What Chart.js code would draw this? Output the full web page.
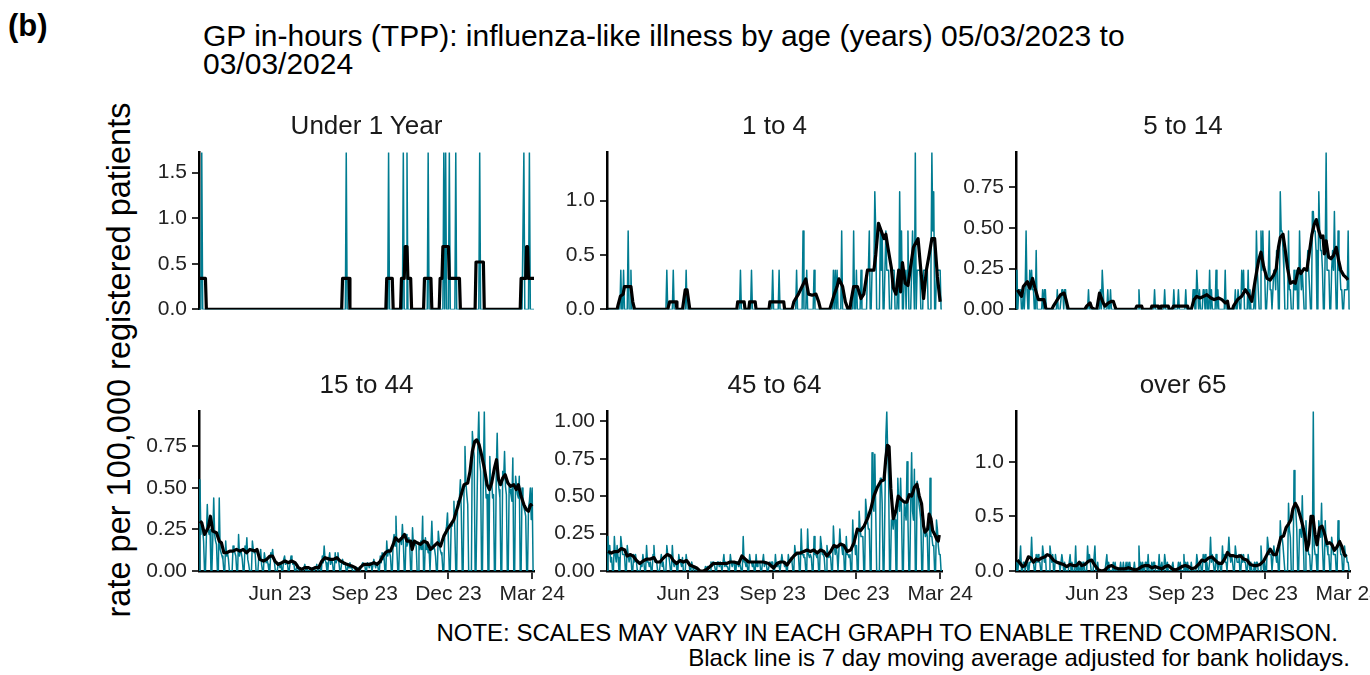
<!DOCTYPE html>
<html>
<head>
<meta charset="utf-8">
<title>GP in-hours ILI by age</title>
<script src="https://cdn.jsdelivr.net/npm/chart.js@4.4.1/dist/chart.umd.min.js"></script>
<style>
  html, body { margin: 0; padding: 0; background: #fff; overflow: hidden; }
  #page { position: relative; width: 1370px; height: 675px; font-family: "Liberation Sans", Arial, sans-serif; }
  #page canvas { position: absolute; }
  .txt { position: absolute; white-space: nowrap; color: #000; }
  .strip { font-size: 26px; line-height: 26px; color: #1a1a1a; transform: translateX(-50%); }
</style>
</head>
<body>
<div id="page">
  <div class="txt" style="left:8px; top:10px; font-size:31px; line-height:31px; font-weight:bold;">(b)</div>
  <div class="txt" style="left:203px; top:22px; font-size:30px; line-height:28.4px;">GP in-hours (TPP): influenza-like illness by age (years) 05/03/2023 to<br>03/03/2024</div>
  <div class="txt" style="left:119px; top:360px; font-size:32.5px; line-height:32.5px; transform: translate(-50%, -50%) rotate(-90deg);">rate per 100,000 registered patients</div>
  <div class="txt" style="right:32px; top:621px; font-size:24px; line-height:24px;">NOTE: SCALES MAY VARY IN EACH GRAPH TO ENABLE TREND COMPARISON.</div>
  <div class="txt" style="right:20px; top:646px; font-size:24px; line-height:24px;">Black line is 7 day moving average adjusted for bank holidays.</div>
</div>
<script>
// =======================
// Data (day 0 = Sun 05/03/2023, day 364 = Sun 03/03/2024)
// =======================

const lastDay = 364;
const dayTicks = [88, 180, 271, 362];
const dayTickLabels = ["Jun 23", "Sep 23", "Dec 23", "Mar 24"];

const panelTitles = ["Under 1 Year", "1 to 4", "5 to 14", "15 to 44", "45 to 64", "over 65"];

// y axis tops and tick values per panel
const yMaxes = [1.72, 1.44, 0.96, 0.96, 1.065, 1.46];
const yTicksUnder1 = [0, 0.5, 1.0, 1.5];
const yTicks1to4 = [0, 0.5, 1.0];
const yTicks5to14 = [0, 0.25, 0.5, 0.75];
const yTicks15to44 = [0, 0.25, 0.5, 0.75];
const yTicks45to64 = [0, 0.25, 0.5, 0.75, 1.0];
const yTicksOver65 = [0, 0.5, 1.0];

// sparse panels: [day, rate] for days with any cases, all other days are 0
const under1Spikes = [
  [3, 1.72], [160, 1.72], [206, 1.72], [222, 1.72], [226, 1.72], [249, 1.72], [266, 1.72],
  [268, 1.72], [272, 1.72], [279, 1.72], [305, 1.72], [353, 1.72], [359, 1.72]
];

const oneTo4Spikes = [
  [15, 0.36], [18, 0.36], [23, 0.72], [26, 0.36], [65, 0.36], [72, 0.36], [86, 0.36],
  [145, 0.36], [157, 0.36], [180, 0.36], [187, 0.36],
  [206, 0.36], [213, 0.72], [217, 0.36], [225, 0.36],
  [246, 0.36], [248, 0.36], [250, 0.36], [255, 0.72],
  [268, 0.72], [271, 0.36], [276, 0.36],
  [283, 0.36], [284, 0.36], [285, 0.72], [288, 0.36], [289, 0.36], [290, 0.36], [291, 1.08], [292, 0.72],
  [297, 0.72], [298, 0.36], [299, 0.72], [303, 0.72], [304, 0.36], [305, 0.36], [306, 0.36],
  [310, 0.36], [311, 0.36], [312, 0.36], [316, 0.36], [318, 1.08], [319, 0.36], [320, 0.72],
  [323, 0.36], [324, 0.36], [326, 0.36], [327, 0.72], [331, 0.36], [332, 0.72], [333, 0.36],
  [335, 1.44], [337, 0.36], [338, 0.36], [339, 0.36], [340, 0.36], [344, 0.36], [345, 0.36],
  [346, 0.36], [347, 0.36], [348, 0.36], [352, 0.36], [353, 1.44], [354, 0.72], [355, 1.08],
  [358, 0.36], [359, 0.36], [360, 0.36], [361, 0.36], [362, 0.36]
];

// dense panels: one row per week, Mon..Fri rates (weekends are 0)
const fiveTo14Weeks = [
  [0.24,0,0.12,0.12,0.12], [0.12,0,0.12,0.48,0.12], [0.24,0.12,0.24,0.12,0.12], [0.36,0,0,0,0],
  [0.12,0,0.12,0.12,0], [0,0,0,0,0], [0,0,0.12,0,0], [0.12,0.12,0,0.12,0.12],
  [0,0,0,0,0], [0,0,0,0,0], [0,0,0,0,0], [0,0.12,0,0,0],
  [0,0,0,0,0], [0.12,0,0.24,0.12,0], [0,0.12,0,0,0.12], [0,0,0,0,0],
  [0,0,0,0,0], [0,0,0,0,0], [0,0,0,0,0], [0.12,0,0,0,0],
  [0,0,0,0,0], [0,0,0,0.12,0], [0,0,0,0,0], [0.12,0,0,0,0],
  [0,0,0,0.12,0], [0,0.12,0,0,0], [0,0,0.12,0,0], [0,0,0,0.12,0.12],
  [0.24,0.12,0,0.12,0], [0.12,0.12,0,0.12,0.12], [0.24,0,0.12,0,0], [0.24,0,0.12,0,0],
  [0,0,0,0.24,0], [0,0,0,0,0], [0.12,0,0,0.12,0.12], [0.24,0.12,0.24,0,0],
  [0.24,0,0.12,0,0], [0.12,0,0.48,0.24,0.12], [0.48,0.24,0.48,0.24,0.24], [0.12,0.24,0.48,0.12,0.12],
  [0.24,0.24,0.12,0.36,0.24], [0.72,0.48,0.48,0.36,0.24], [0,0,0.48,0.12,0.12], [0,0.24,0.12,0.12,0.24],
  [0.48,0.24,0.12,0.24,0.12], [0.24,0.24,0.36,0.24,0.12], [0.60,0.60,0.48,0.48,0.36], [0.72,0.48,0.36,0.36,0.24],
  [0.36,0.96,0.24,0.24,0.24], [0.24,0.36,0.24,0.60,0.24], [0.48,0.24,0.24,0.12,0.12], [0.12,0.12,0.12,0.12,0.48]
];

const fifteenTo44Weeks = [
  [0.55,0.22,0.30,0.25,0.18], [0.20,0.40,0.25,0.22,0.25], [0.20,0.44,0.22,0.18,0.16], [0.44,0.13,0.11,0.09,0.07],
  [0.18,0.09,0.11,0.07,0], [0,0.15,0.13,0.11,0.09], [0.22,0.09,0.13,0.11,0.07], [0.15,0.11,0.20,0.07,0.04],
  [0,0.18,0.13,0.11,0.11], [0,0.09,0.07,0.13,0.04], [0.11,0.07,0.05,0.07,0.04], [0.11,0.09,0.13,0.07,0.05],
  [0,0.04,0.05,0.02,0.05], [0.07,0.09,0.04,0.05,0.05], [0.05,0.09,0.07,0.04,0.05], [0.02,0.04,0,0.02,0.02],
  [0.02,0.02,0.04,0,0.02], [0,0.02,0,0.02,0.02], [0.02,0.04,0,0.02,0.04], [0.09,0.05,0.15,0.07,0.05],
  [0.07,0.11,0.04,0.07,0.05], [0.11,0.05,0.07,0.11,0.05], [0.05,0.07,0.04,0.05,0.04], [0.04,0.02,0.05,0.02,0.02],
  [0,0.02,0,0.02,0], [0,0.04,0.05,0.04,0.04], [0.05,0.04,0.02,0.05,0.04], [0.07,0.04,0.02,0.05,0.04],
  [0.09,0.05,0.11,0.07,0.09], [0.18,0.09,0.13,0.11,0.09], [0.18,0.22,0.15,0.33,0.13], [0.18,0.20,0.16,0.28,0.18],
  [0.22,0.15,0.18,0.20,0.15], [0.26,0.15,0.18,0.16,0.15], [0.16,0.13,0.18,0.13,0.33], [0.20,0.13,0.16,0.11,0.13],
  [0.30,0.13,0.15,0.13,0.09], [0.24,0.18,0.13,0.11,0.09], [0.22,0.24,0.27,0.35,0.18], [0.28,0.27,0.31,0.42,0.24],
  [0.42,0.38,0.44,0.55,0.36], [0.51,0.75,0.53,0.46,0.40], [0,0,0.84,0.75,0.69], [0,0.75,0.96,0.66,0.60],
  [0.60,0.96,0.55,0.44,0.46], [0.69,0.51,0.55,0.44,0.46], [0.60,0.83,0.55,0.49,0.44], [0.60,0.55,0.72,0.51,0.46],
  [0.51,0.49,0.46,0.42,0.68], [0.57,0.51,0.46,0.44,0.57], [0.50,0.42,0.38,0.36,0.33], [0.38,0.42,0.50,0.31,0.50]
];

const fortyFiveTo64Weeks = [
  [0.23,0.11,0.17,0.06,0.09], [0.23,0.11,0.06,0.17,0.09], [0.23,0.17,0.11,0.11,0.11], [0.17,0.11,0.06,0.11,0.09],
  [0.11,0.06,0.11,0.06,0], [0,0.06,0.03,0.11,0.06], [0.17,0.06,0.06,0.03,0.06], [0.11,0.17,0.06,0.06,0.06],
  [0,0.06,0.11,0.03,0.06], [0,0.17,0.11,0.11,0.06], [0.17,0.06,0.03,0.06,0.06], [0.11,0.06,0.06,0.03,0.09],
  [0,0.11,0.06,0.06,0.06], [0.06,0.03,0,0.03,0.03], [0,0,0,0,0], [0,0.03,0,0.03,0],
  [0.06,0.03,0.06,0.06,0.03], [0.06,0.06,0.03,0.06,0.03], [0.11,0.03,0.06,0.03,0.03], [0.11,0.06,0.03,0.06,0.06],
  [0.06,0.06,0.03,0.06,0.03], [0.23,0.06,0.06,0.03,0.06], [0.11,0.06,0.06,0.03,0.06], [0.11,0.03,0.06,0.06,0.06],
  [0.06,0.11,0.03,0.06,0.06], [0,0.06,0.03,0.06,0.06], [0.11,0.03,0.03,0.06,0.03], [0.11,0.06,0.06,0.03,0.06],
  [0.11,0.06,0.06,0.09,0.06], [0.17,0.11,0.11,0.11,0.11], [0.28,0.11,0.11,0.09,0.09], [0.28,0.11,0.09,0.11,0.09],
  [0.23,0.11,0.11,0.09,0.11], [0.23,0.17,0.11,0.11,0.09], [0.17,0.11,0.09,0.11,0.09], [0.30,0.17,0.11,0.17,0.11],
  [0.28,0.17,0.17,0.11,0.17], [0.23,0.11,0.11,0.09,0.11], [0.34,0.17,0.23,0.11,0.17], [0.40,0.28,0.23,0.23,0.23],
  [0.48,0.40,0.34,0.28,0.28], [0.79,0.45,0.40,0.78,0.40], [0,0,0.62,0.62,0.45], [0,0.90,1.065,0.79,0.62],
  [0.34,0.34,0.28,0.40,0.34], [0.62,0.45,0.40,0.62,0.40], [0.45,0.40,0.34,0.73,0.34], [0.45,0.79,0.40,0.34,0.68],
  [0.60,0.55,0.45,0.40,0.34], [0.34,0.28,0.23,0.28,0.23], [0.62,0.23,0.23,0.17,0.17], [0.34,0.28,0.17,0.11,0.11]
];

const over65Weeks = [
  [0.08,0,0.08,0.08,0.23], [0.08,0.08,0,0.08,0.08], [0.08,0.08,0.31,0.08,0.08], [0.15,0.08,0.15,0.08,0.08],
  [0.23,0.15,0.08,0.15,0], [0,0.23,0.15,0.08,0.15], [0.15,0.08,0.08,0.08,0.08], [0.15,0.08,0,0.08,0],
  [0,0.08,0.15,0,0.08], [0,0.23,0,0,0.08], [0.08,0,0.08,0.08,0], [0.23,0.08,0.15,0.08,0],
  [0,0.23,0,0,0.08], [0,0,0,0,0], [0.15,0,0.08,0,0], [0.08,0,0.08,0,0],
  [0,0.08,0,0,0.08], [0.08,0,0.08,0,0.08], [0,0,0.08,0,0], [0.23,0,0.08,0,0.08],
  [0.08,0.08,0,0.15,0], [0.08,0,0.08,0.08,0], [0,0.15,0,0,0.08], [0.15,0.08,0,0.08,0],
  [0,0,0.08,0,0], [0,0.08,0,0.08,0], [0.15,0,0.08,0,0.08], [0,0.08,0,0,0],
  [0.15,0.08,0,0.08,0.08], [0.15,0.08,0.15,0,0.08], [0.08,0.31,0.08,0.15,0.08], [0.15,0.08,0,0.08,0.08],
  [0.23,0.08,0.15,0.08,0.08], [0.31,0.15,0.08,0.15,0.08], [0.23,0.15,0.08,0.08,0.15], [0.15,0.08,0.15,0.08,0.08],
  [0.15,0.08,0,0.08,0], [0.08,0,0.08,0.08,0], [0.23,0.08,0.08,0,0.08], [0.31,0.23,0.15,0.15,0.15],
  [0.23,0.15,0.15,0.08,0.15], [0.46,0.31,0.31,0.23,0.23], [0,0,0.62,0.38,0.31], [0,0.92,0.62,0.54,0.38],
  [0.38,0.38,0.31,0.69,0.31], [0.46,0.23,0.23,0.15,0.15], [0.15,1.46,0.23,0.15,0.15], [0.46,0.38,0.31,0.62,0.23],
  [0.46,0.23,0.23,0.15,0.15], [0.31,0.23,0.15,0.15,0.15], [0.46,0.31,0.23,0.15,0.15], [0.23,0.15,0.15,0.08,0.08]
];

// 7 day moving average (black line), [day, rate]
const maUnder1 = [
  [0,0.34],[7,0.34],[8,0],[155,0],[156,0.34],[163,0.34],[164,0],[203,0],[204,0.34],[210,0.34],[211,0],
  [219,0],[220,0.34],[223,0.34],[224,0.69],[226,0.69],[227,0.34],[230,0.34],[231,0],[244,0],[245,0.34],
  [252,0.34],[253,0],[261,0],[262,0.34],[264,0.34],[265,0.69],[271,0.69],[272,0.34],[283,0.34],[284,0],
  [300,0],[301,0.52],[309,0.52],[310,0],[349,0],[350,0.34],[355,0.34],[356,0.69],[357,0.69],[358,0.34],[364,0.34]
];

const ma1to4 = [
  [0,0],[11,0],[12,0.04],[14.5,0.12],[17.5,0.14],[19,0.21],[26,0.21],[28,0.07],[30,0],[66,0],[68,0.07],
  [75,0.07],[76,0],[82,0],[85,0.18],[87,0.18],[90,0],[141,0],[142,0.07],[149,0.07],[150,0],[154,0],
  [155,0.07],[161,0.07],[162,0],[176,0],[177,0.07],[192,0.07],[193,0],[201,0],[203,0.07],[208,0.14],
  [212,0.21],[216,0.28],[219,0.14],[223,0.13],[227,0.14],[230,0.07],[232,0],[242,0],[247,0.14],[250,0.21],
  [252,0.28],[256,0.21],[259,0.07],[262,0],[264,0],[265,0.07],[268,0.21],[272,0.21],[276,0.10],[279,0.14],
  [283,0.36],[287,0.36],[290,0.36],[292,0.50],[295,0.79],[298,0.72],[301,0.65],[303,0.69],[305,0.58],
  [309,0.38],[311,0.20],[314,0.14],[317,0.36],[319,0.16],[321,0.43],[324,0.24],[327,0.22],[330,0.40],
  [333,0.57],[338,0.65],[341,0.36],[344,0.10],[347,0.36],[350,0.50],[353,0.65],[356,0.65],[359,0.30],[362,0.07]
];

const ma5to14 = [
  [1.5,0.12],[6,0.08],[8,0.14],[12.4,0.17],[15,0.13],[18,0.19],[20.7,0.13],[24.4,0.06],[30.5,0.06],[32.7,0],
  [39,0],[40.7,0.02],[44,0.05],[48.7,0.09],[52.4,0.10],[54.5,0.06],[57,0],[75,0],[77,0.02],[80.7,0.04],
  [82.5,0.01],[86,0],[88,0],[91,0.10],[95,0.04],[97,0.02],[100.7,0.04],[104.4,0.05],[106,0.05],[109,0],
  [130,0],[131.6,0.02],[137,0.02],[138,0],[147,0],[148,0.02],[155,0.02],[156,0],[157,0],[158,0.02],[166,0.02],
  [167,0],[170,0],[171.6,0.02],[187,0.02],[188,0],[191,0],[194,0.06],[197,0.08],[200.7,0.07],[204.4,0.08],
  [208,0.09],[212.4,0.07],[216,0.06],[220.7,0.07],[224.4,0.06],[228,0.04],[230.5,0.05],[232,0],[236,0],
  [237,0.02],[241.5,0.06],[246,0.08],[250,0.12],[253.5,0.09],[257,0.05],[260.7,0.18],[264.4,0.30],[267,0.35],
  [270,0.26],[273.5,0.19],[277,0.18],[280.7,0.21],[283.6,0.25],[286,0.38],[288,0.44],[291,0.46],[293.5,0.36],
  [296,0.25],[299,0.16],[302,0.17],[304.4,0.16],[308,0.25],[310.5,0.22],[314,0.25],[317,0.24],[320,0.36],
  [322.5,0.46],[325,0.52],[327.3,0.55],[330,0.48],[332.4,0.44],[334.5,0.45],[336,0.34],[338,0.42],[340.7,0.32],
  [343.3,0.31],[346,0.33],[349,0.38],[351.6,0.30],[354,0.24],[357,0.21],[360.7,0.19],[361.5,0.18]
];

const ma15to44 = [
  [1,0.30],[3,0.29],[6,0.22],[10,0.26],[12.4,0.33],[15,0.24],[19,0.23],[22,0.18],[24.4,0.17],[27,0.11],
  [30,0.11],[33.5,0.12],[37,0.12],[40.7,0.13],[44.4,0.12],[48,0.13],[51.6,0.11],[55.3,0.13],[60.7,0.12],
  [63,0.13],[66,0.07],[70,0.06],[73.5,0.07],[77,0.09],[80,0.09],[82.5,0.06],[86,0.04],[90,0.05],[93.5,0.06],
  [97,0.05],[100.7,0.06],[104.4,0.05],[108,0.02],[111.6,0.01],[115,0.02],[119,0.02],[122.5,0.01],[126,0.02],
  [130,0.02],[133.5,0.06],[137,0.08],[142.5,0.07],[146,0.07],[149.8,0.08],[153.5,0.06],[157,0.05],[160.7,0.04],
  [166,0.03],[170,0.02],[172.4,0],[175,0.02],[179,0.04],[182.5,0.04],[186,0.04],[190,0.05],[193.5,0.04],
  [197,0.06],[200,0.09],[202.5,0.11],[205,0.12],[208,0.12],[211,0.16],[213.5,0.20],[217,0.18],[220.7,0.20],
  [223.3,0.22],[226,0.18],[230,0.18],[231.6,0.13],[234,0.18],[237,0.17],[240.7,0.16],[244.4,0.18],[248,0.17],
  [251.6,0.13],[255.3,0.15],[259,0.17],[262.5,0.15],[266,0.21],[270,0.25],[273.5,0.28],[277,0.31],[280.7,0.38],
  [284.4,0.45],[288,0.52],[292,0.53],[294.5,0.60],[297,0.72],[299.6,0.78],[301.8,0.79],[304.4,0.76],[307,0.70],
  [310,0.62],[313,0.52],[315.6,0.49],[318,0.53],[321,0.62],[323.3,0.67],[325.5,0.55],[327.6,0.52],[330,0.56],
  [332.7,0.58],[335.6,0.53],[338.5,0.51],[342,0.52],[344.7,0.49],[347,0.52],[350,0.45],[353,0.40],[355.6,0.37],
  [358,0.36],[360.4,0.40],[362,0.39]
];

const ma45to64 = [
  [1,0.13],[4.7,0.12],[8.4,0.13],[12,0.13],[15.6,0.15],[19.3,0.14],[21.8,0.10],[25.5,0.11],[28.4,0.10],[32,0.07],
  [35.6,0.05],[40,0.07],[43.6,0.08],[47.3,0.08],[51,0.09],[53.8,0.06],[57.5,0.06],[61.8,0.09],[65.5,0.11],
  [69,0.10],[72,0.07],[75.6,0.05],[79.3,0.07],[83,0.06],[86.5,0.07],[90,0.04],[93.8,0.03],[97.5,0.02],[101,0],
  [104.7,0],[108.4,0.01],[112,0.03],[115.6,0.05],[119.3,0.05],[123,0.05],[126.5,0.05],[130,0.05],[133.8,0.06],
  [138,0.06],[143,0.05],[146.5,0.10],[150,0.08],[153.8,0.06],[159,0.06],[164.7,0.06],[170,0.06],[175.6,0.05],
  [181,0.02],[184.7,0.05],[188.4,0.06],[192,0.06],[195.6,0.04],[199,0.07],[203,0.10],[206.5,0.12],[210,0.12],
  [213.8,0.13],[217.5,0.14],[221,0.13],[224.7,0.14],[228.4,0.12],[232,0.14],[235.6,0.13],[239,0.10],[243,0.13],
  [246.5,0.17],[250,0.16],[253.8,0.18],[257.5,0.17],[261,0.13],[264.7,0.14],[268.4,0.19],[272,0.28],[275.6,0.27],
  [279.3,0.30],[283,0.35],[286.5,0.41],[290,0.50],[293.8,0.56],[297.5,0.60],[301,0.61],[302.9,0.75],[304.7,0.84],
  [306.5,0.83],[308.4,0.55],[311,0.35],[313.8,0.40],[316.4,0.50],[319.3,0.48],[323,0.46],[325.8,0.46],[328.4,0.51],
  [331,0.50],[334,0.56],[336.7,0.58],[339.3,0.50],[341.8,0.45],[344,0.30],[345.5,0.26],[348.4,0.28],[350,0.38],
  [352,0.35],[353.8,0.27],[356.4,0.24],[358.5,0.21],[360,0.20],[361,0.24]
];

const maOver65 = [
  [1.5,0.10],[4.4,0.07],[7.3,0.04],[9.8,0.05],[13.5,0.13],[16,0.12],[19,0.08],[21.8,0.11],[24.4,0.10],[28,0.12],
  [31.6,0.13],[34,0.15],[37,0.14],[40.7,0.10],[44.4,0.08],[48,0.07],[51.6,0.06],[55.3,0.04],[59,0.06],[62.5,0.05],
  [66,0.05],[69,0.08],[71.6,0.05],[75.3,0.06],[79,0.09],[82.5,0.10],[86,0.05],[90,0.01],[93.5,0],[97,0.01],
  [100.7,0.04],[104.4,0.05],[108,0.03],[111.6,0.02],[115.3,0.02],[119,0.02],[122.5,0.03],[126,0.02],[130,0.01],
  [133.5,0.02],[137,0.04],[140.7,0.05],[144.4,0.05],[148,0.03],[151.6,0.04],[155.3,0.03],[159,0.02],[162.5,0.04],
  [166,0.05],[170,0.02],[173.5,0.01],[177,0.02],[180.7,0.04],[184.4,0.05],[188,0.04],[191.6,0.02],[195.3,0.03],
  [199,0.06],[202.5,0.10],[206,0.09],[209.8,0.12],[213.5,0.13],[217,0.10],[220.7,0.07],[224.4,0.07],[228,0.12],
  [230.5,0.17],[233.5,0.14],[237,0.14],[240.7,0.13],[244.4,0.14],[248,0.11],[251.6,0.10],[255.3,0.06],[259,0.05],
  [262.5,0.05],[266,0.06],[269.8,0.09],[273.5,0.15],[277,0.20],[280.7,0.15],[283.6,0.15],[286,0.22],[288.7,0.31],
  [291.6,0.32],[294.5,0.40],[297,0.43],[299.6,0.47],[301.8,0.57],[304.4,0.62],[307,0.58],[309.8,0.50],[312.7,0.41],
  [315.3,0.30],[317,0.19],[319,0.25],[321.5,0.50],[323.6,0.50],[326,0.33],[328,0.24],[331,0.40],[333.5,0.41],
  [336,0.35],[339,0.25],[341.8,0.26],[344.4,0.24],[347,0.19],[349.8,0.22],[352.7,0.27],[355.3,0.22],[357.8,0.15],[360,0.13]
];


// =======================
// Helpers
// =======================

function dailyFromSpikes(spikes) {
  const y = new Array(lastDay + 1).fill(0);
  spikes.forEach(([d, v]) => { y[d] = v; });
  return y.map((v, d) => ({ x: d, y: v }));
}

// week w covers Mon..Fri = days 7w+1 .. 7w+5
function dailyFromWeeks(weeks) {
  const y = new Array(lastDay + 1).fill(0);
  weeks.forEach((row, w) => row.forEach((v, i) => { y[7 * w + 1 + i] = v; }));
  return y.map((v, d) => ({ x: d, y: v }));
}

function pts(pairs) {
  return pairs.map(([x, y]) => ({ x, y }));
}


// =======================
// Layout
// =======================

const TEAL = "#007C91";
const TICK_TEXT = "#222222";
const FONT = "'Liberation Sans', Arial, sans-serif";

const colLeft = [199, 607, 1016];
const colRight = [534, 942, 1350];
const rowTop = [149, 408];
const rowBottom = [313, 571];

const AXIS_W = 72;   // y axis box (labels + ticks)
const XAXIS_H = 40;  // x axis box on bottom row
const PAD_T = 14, PAD_R = 36, PAD_B = 14;

const panels = [
  { daily: dailyFromSpikes(under1Spikes), ma: pts(maUnder1), yTicks: yTicksUnder1, dec: 1 },
  { daily: dailyFromSpikes(oneTo4Spikes), ma: pts(ma1to4), yTicks: yTicks1to4, dec: 1 },
  { daily: dailyFromWeeks(fiveTo14Weeks), ma: pts(ma5to14), yTicks: yTicks5to14, dec: 2 },
  { daily: dailyFromWeeks(fifteenTo44Weeks), ma: pts(ma15to44), yTicks: yTicks15to44, dec: 2 },
  { daily: dailyFromWeeks(fortyFiveTo64Weeks), ma: pts(ma45to64), yTicks: yTicks45to64, dec: 2 },
  { daily: dailyFromWeeks(over65Weeks), ma: pts(maOver65), yTicks: yTicksOver65, dec: 1 }
];

const page = document.getElementById("page");

function addStrip(text, col, row) {
  const el = document.createElement("div");
  el.className = "txt strip";
  el.textContent = text;
  el.style.left = ((colLeft[col] + colRight[col]) / 2) + "px";
  el.style.top = (rowTop[row] - 37) + "px";
  page.appendChild(el);
}

function makePanel(p, idx) {
  const col = idx % 3, row = Math.floor(idx / 3);
  const bottomRow = row === 1;
  const plotW = colRight[col] - colLeft[col];
  const plotH = rowBottom[row] - rowTop[row];

  const cv = document.createElement("canvas");
  cv.width = AXIS_W + plotW + PAD_R;
  cv.height = PAD_T + plotH + (bottomRow ? XAXIS_H : PAD_B);
  cv.style.left = (colLeft[col] - AXIS_W) + "px";
  cv.style.top = (rowTop[row] - PAD_T) + "px";
  page.appendChild(cv);

  addStrip(panelTitles[idx], col, row);

  const tickFont = { family: FONT, size: 21 };

  new Chart(cv.getContext("2d"), {
    type: "line",
    data: {
      datasets: [
        { data: p.ma, borderColor: "#000000", borderWidth: 3.2, order: 0 },
        { data: p.daily, borderColor: TEAL, borderWidth: 1.5, order: 1 }
      ]
    },
    options: {
      responsive: false,
      animation: false,
      events: [],
      layout: { padding: { top: PAD_T, right: PAD_R, bottom: bottomRow ? 0 : PAD_B, left: 0 } },
      plugins: { legend: { display: false }, tooltip: { enabled: false } },
      elements: {
        point: { radius: 0 },
        line: { tension: 0, borderJoinStyle: "round", fill: false }
      },
      scales: {
        x: {
          type: "linear",
          min: 0,
          max: lastDay,
          display: bottomRow,
          afterBuildTicks: s => { s.ticks = dayTicks.map(v => ({ value: v })); },
          afterFit: s => { if (bottomRow) s.height = XAXIS_H; },
          ticks: {
            autoSkip: false, maxRotation: 0, minRotation: 0, padding: 3,
            color: TICK_TEXT, font: tickFont,
            callback: (v, i) => dayTickLabels[i]
          },
          grid: { drawOnChartArea: false, drawTicks: true, tickLength: 8, color: "#333333", lineWidth: 2 },
          border: { display: true, color: "#000000", width: 2.5 }
        },
        y: {
          min: 0,
          max: yMaxes[idx],
          afterBuildTicks: s => { s.ticks = p.yTicks.map(v => ({ value: v })); },
          afterFit: s => { s.width = AXIS_W; },
          ticks: {
            padding: 5, color: TICK_TEXT, font: tickFont,
            callback: v => Number(v).toFixed(p.dec)
          },
          grid: { drawOnChartArea: false, drawTicks: true, tickLength: 7, color: "#333333", lineWidth: 2 },
          border: { display: true, color: "#000000", width: 2.5 }
        }
      }
    }
  });
}

panels.forEach(makePanel);
</script>
</body>
</html>
